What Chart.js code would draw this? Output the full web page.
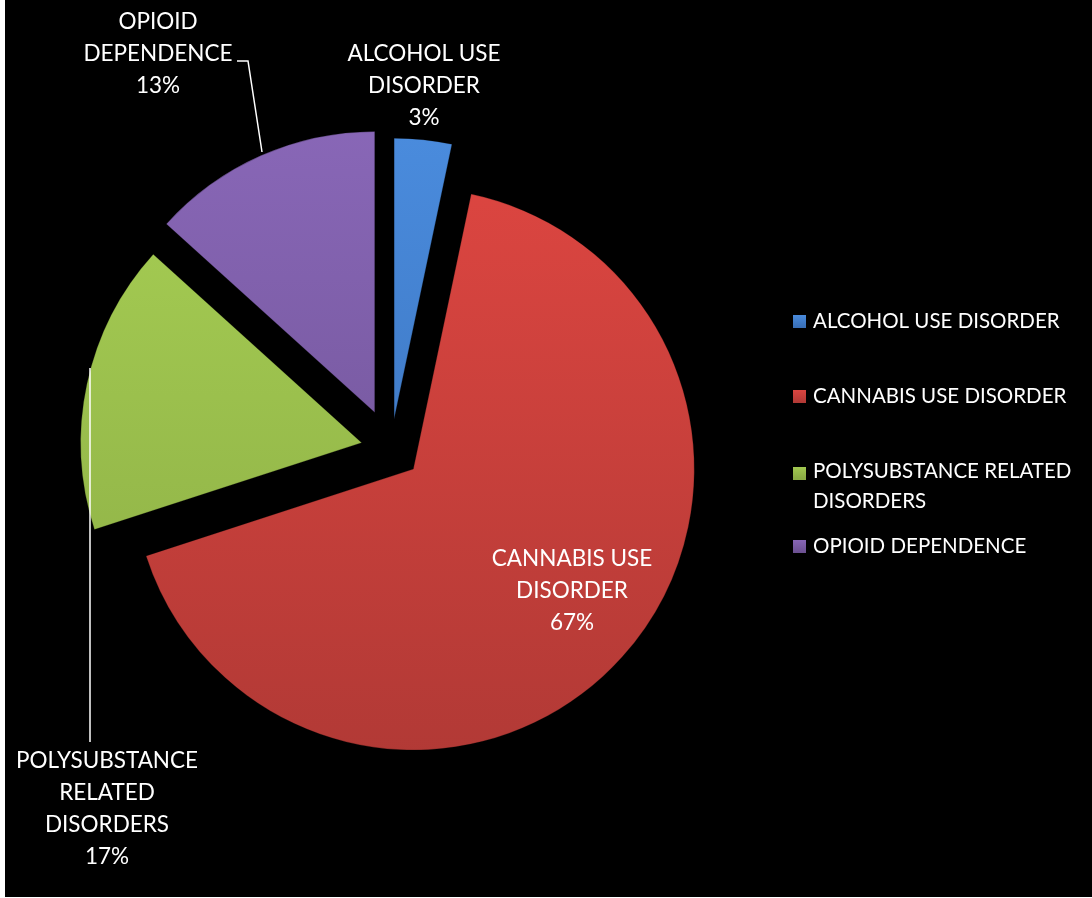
<!DOCTYPE html>
<html>
<head>
<meta charset="utf-8">
<script src="https://cdn.jsdelivr.net/npm/chart.js@4.4.1/dist/chart.umd.min.js"></script>
<style>
  html, body { margin: 0; padding: 0; background: #fff; }
  #wrap { width: 1092px; height: 898px; }
</style>
</head>
<body>
<div id="wrap"><canvas id="pie" width="1092" height="898"></canvas></div>
<script>
// data (shares in %, labels are rounded)
const categories = ['ALCOHOL USE DISORDER', 'CANNABIS USE DISORDER', 'POLYSUBSTANCE RELATED DISORDERS', 'OPIOID DEPENDENCE'];
const shares = [3.3, 66.7, 16.7, 13.3];
const sliceLabels = [['ALCOHOL USE', 'DISORDER'], ['CANNABIS USE', 'DISORDER'], ['POLYSUBSTANCE', 'RELATED', 'DISORDERS'], ['OPIOID', 'DEPENDENCE']];
const legendLabels = [['ALCOHOL USE DISORDER'], ['CANNABIS USE DISORDER'], ['POLYSUBSTANCE RELATED', 'DISORDERS'], ['OPIOID DEPENDENCE']];

// look
const topColors = ['#4b8ddf', '#de4641', '#a8d054', '#8a68b9'];
const bottomColors = ['#376db5', '#b03935', '#8aab44', '#6b5090'];
const explode = [30, 30, 30, 40];
const LABEL_FONT = '22.5px Lato, "Open Sans", sans-serif';
const LEGEND_FONT = '20.5px Lato, "Open Sans", sans-serif';

// where Excel put the labels (first line centre) and the leader lines
const labelAt = [[424, 54], [572, 559], [107, 761], [158, 22]];
const leaders = [null, null, [[90, 742], [90, 368]], [[237, 61], [248, 61], [262, 152]]];
const legendRowY = [321, 396, 471, 546];

// push slices outwards without growing their radius
const arcDraw = Chart.ArcElement.prototype.draw;
Chart.ArcElement.prototype.draw = function (ctx) {
  const d = this.explode || 0;
  const mid = (this.startAngle + this.endAngle) / 2;
  ctx.save();
  ctx.translate(Math.cos(mid) * d, Math.sin(mid) * d);
  arcDraw.call(this, ctx);
  ctx.restore();
};

function sliceFill(c) {
  const i = c.dataIndex;
  const g = c.chart.ctx.createLinearGradient(0, 130, 0, 760);
  g.addColorStop(0, topColors[i]);
  g.addColorStop(1, bottomColors[i]);
  return g;
}

const backdrop = {
  id: 'backdrop',
  beforeDraw(chart) {
    const ctx = chart.ctx;
    ctx.save();
    ctx.fillStyle = '#fff';
    ctx.fillRect(0, 0, chart.width, chart.height);
    ctx.fillStyle = '#000';
    ctx.fillRect(5, 0, chart.width - 5, 897);
    ctx.restore();
  },
  beforeDatasetsDraw(chart) {
    chart.getDatasetMeta(0).data.forEach((arc, i) => { arc.explode = explode[i]; });
  }
};

const labelsAndLegend = {
  id: 'labelsAndLegend',
  afterDatasetsDraw(chart) {
    const ctx = chart.ctx;
    const vals = chart.data.datasets[0].data;
    const total = vals.reduce((a, b) => a + b, 0);
    ctx.save();
    ctx.fillStyle = '#fff';
    ctx.textBaseline = 'middle';

    // leader lines
    ctx.strokeStyle = '#fff';
    ctx.lineWidth = 1.5;
    leaders.forEach(pts => {
      if (!pts) return;
      ctx.beginPath();
      ctx.moveTo(pts[0][0], pts[0][1]);
      for (let k = 1; k < pts.length; k++) ctx.lineTo(pts[k][0], pts[k][1]);
      ctx.stroke();
    });

    // slice labels
    ctx.font = LABEL_FONT;
    ctx.textAlign = 'center';
    sliceLabels.forEach((lines, i) => {
      const all = lines.concat([Math.round(vals[i] / total * 100) + '%']);
      all.forEach((t, k) => ctx.fillText(t, labelAt[i][0], labelAt[i][1] + k * 32));
    });

    // legend
    ctx.font = LEGEND_FONT;
    ctx.textAlign = 'left';
    legendLabels.forEach((lines, i) => {
      const y = legendRowY[i];
      const g = ctx.createLinearGradient(0, y - 7, 0, y + 7);
      g.addColorStop(0, topColors[i]);
      g.addColorStop(1, bottomColors[i]);
      ctx.fillStyle = g;
      ctx.fillRect(793, y - 6 + (lines.length > 1 ? 2 : 0), 13, 13);
      ctx.fillStyle = '#fff';
      lines.forEach((t, k) => ctx.fillText(t, 813, y + k * 30));
    });
    ctx.restore();
  }
};

new Chart(document.getElementById('pie'), {
  type: 'pie',
  data: {
    labels: categories,
    datasets: [{
      data: shares,
      backgroundColor: sliceFill,
      borderColor: 'rgba(0,0,0,0.25)',
      borderWidth: 1
    }]
  },
  options: {
    responsive: false,
    devicePixelRatio: 1,
    animation: false,
    radius: 281,
    layout: { padding: { left: 0, right: 310, top: 0, bottom: 0 } },
    plugins: {
      legend: { display: false },
      tooltip: { enabled: false }
    }
  },
  plugins: [backdrop, labelsAndLegend]
});
</script>
</body>
</html>
